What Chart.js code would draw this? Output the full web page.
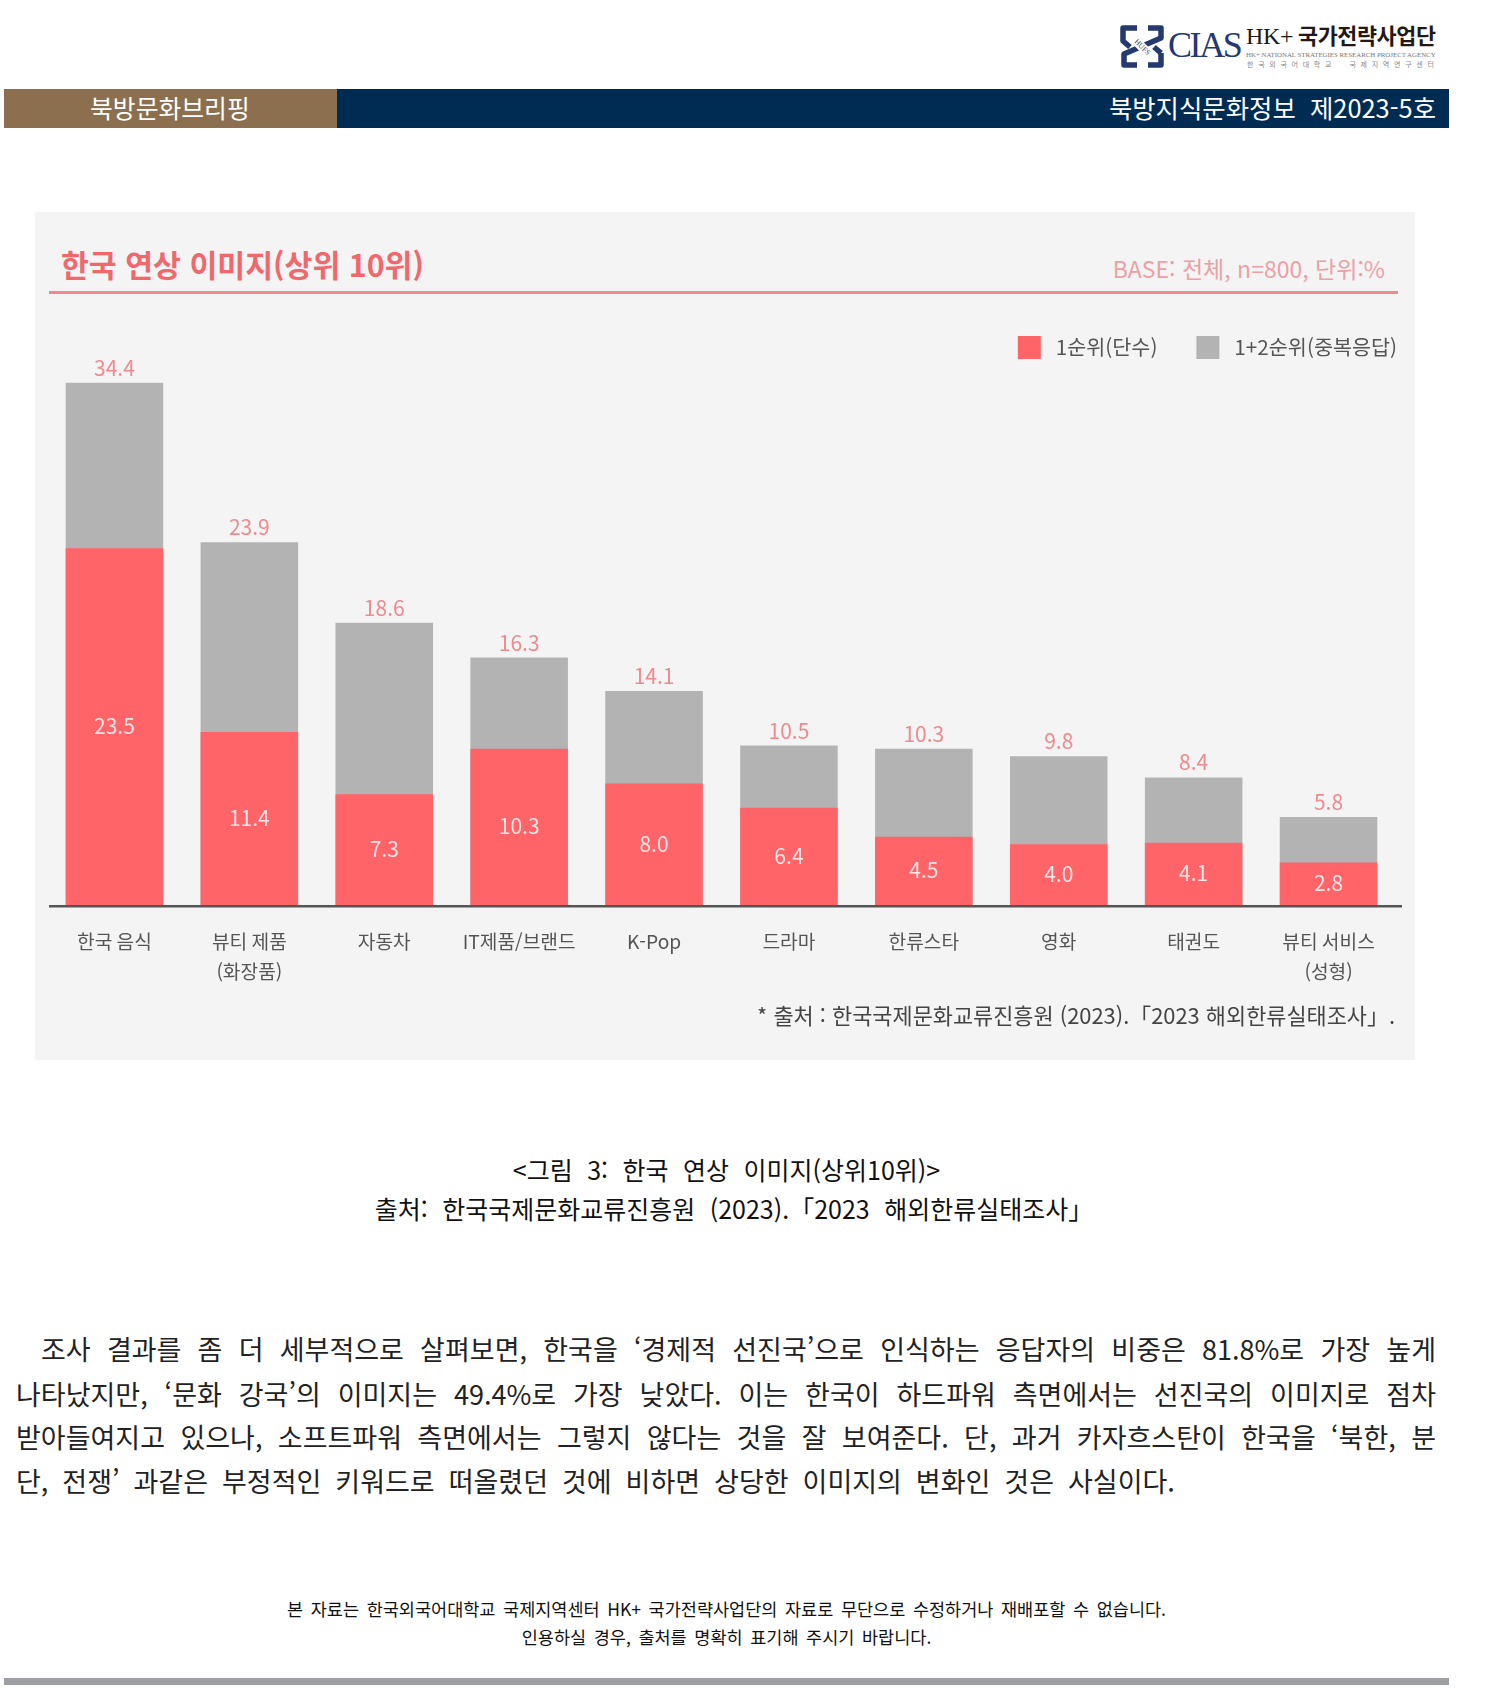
<!DOCTYPE html>
<html lang="ko">
<head>
<meta charset="utf-8">
<title>한국 연상 이미지(상위 10위)</title>
<script src="https://cdn.jsdelivr.net/npm/chart.js@4"></script>
<style>
  html, body { margin: 0; padding: 0; background: #fff; }
  body { position: relative; width: 1488px; height: 1693px; overflow: hidden; font-family: "Noto Sans CJK KR", "Noto Sans", sans-serif; }
  .abs { position: absolute; white-space: pre; }
  .box { position: absolute; }
  .just { position: absolute; left: 16px; width: 1420px; height: 44px; line-height: 44px; font-size: 27px; color: #222; white-space: normal; text-align: justify; text-align-last: justify; box-sizing: border-box; }
  .center { position: absolute; left: 4px; width: 1445px; text-align: center; white-space: pre; color: #111; }
  #chart { position: absolute; left: 35px; top: 295px; }
</style>
</head>
<body>
<!-- logo -->
<svg class="box" style="left:1115px;top:20px" width="56" height="54" viewBox="0 0 56 54">
  <g fill="none" stroke="#24396f" stroke-width="5.5" stroke-linejoin="round">
    <path d="M33 8H46V18L9 34V45H22"/>
    <path d="M22 8H8V21L15 27"/>
    <path d="M46 33V45H33V45"/>
    <path d="M46 33L39 27"/>
  </g>
  <path d="M17 17L38 38" stroke="#fff" stroke-width="9"/>
  <text x="27.5" y="29.5" font-size="7.5" font-family="Liberation Serif" text-anchor="middle" fill="#24396f" transform="rotate(45 27.5 27)">HUFS</text>
</svg>
<div class="abs" style="left:1168px;top:25px;font:36px/40px 'Liberation Serif';color:#24396f;letter-spacing:-2.4px">CIAS</div>
<div class="abs" style="left:1246px;top:21px;font:24px/30px 'Liberation Serif';color:#231815;letter-spacing:-0.3px">HK+</div>
<div class="abs" style="left:1298px;top:20px;font:bold 21.8px/30px 'Noto Sans CJK KR';color:#231815;letter-spacing:-0.4px">국가전략사업단</div>
<div class="abs" style="left:1246px;top:49px;font:6.85px/12px 'Liberation Serif';color:#777">HK+ NATIONAL STRATEGIES RESEARCH PROJECT AGENCY</div>
<div class="abs" style="left:1247px;top:58px;font:7px/12px 'Noto Sans CJK KR';color:#888;letter-spacing:4.7px">한국외국어대학교  국제지역연구센터</div>

<!-- header band -->
<div class="box" style="left:4px;top:89px;width:333px;height:39px;background:#8b6f4e"></div>
<div class="box" style="left:337px;top:89px;width:1112px;height:39px;background:#002c54"></div>
<div class="abs" style="left:90px;top:88px;font-size:24.8px;line-height:39px;color:#fff">북방문화브리핑</div>
<div class="abs" style="right:52px;top:88px;font-size:25.4px;line-height:39px;color:#fff">북방지식문화정보  제2023-5호</div>

<!-- chart panel -->
<div class="box" style="left:35px;top:212px;width:1380px;height:848px;background:#f4f4f4"></div>
<div class="abs" style="left:61px;top:244px;font-weight:bold;font-size:30.3px;line-height:40px;color:#f0686c">한국 연상 이미지(상위 10위)</div>
<div class="abs" style="right:103px;top:252px;font-size:23px;line-height:32px;color:#eda0a4">BASE: 전체, n=800, 단위:%</div>
<div class="box" style="left:49px;top:291px;width:1349px;height:3px;background:#f2898c"></div>
<canvas id="chart" width="1380" height="706"></canvas>
<div class="abs" style="right:93px;top:999px;font-size:21.9px;line-height:32px;color:#444">* 출처 : 한국국제문화교류진흥원 (2023).「2023 해외한류실태조사」.</div>

<!-- caption -->
<div class="center" style="top:1149px;font-size:25px;line-height:40px;word-spacing:7.5px">&lt;그림 3: 한국 연상 이미지(상위10위)&gt;</div>
<div class="center" style="top:1188px;font-size:25px;line-height:40px;word-spacing:7.5px;padding-left:15px;box-sizing:border-box">출처: 한국국제문화교류진흥원 (2023).「2023 해외한류실태조사」</div>

<!-- body text -->
<div class="just" style="top:1327px;padding-left:25px">조사 결과를 좀 더 세부적으로 살펴보면, 한국을 ‘경제적 선진국’으로 인식하는 응답자의 비중은 81.8%로 가장 높게</div>
<div class="just" style="top:1372px">나타났지만, ‘문화 강국’의 이미지는 49.4%로 가장 낮았다. 이는 한국이 하드파워 측면에서는 선진국의 이미지로 점차</div>
<div class="just" style="top:1415px">받아들여지고 있으나, 소프트파워 측면에서는 그렇지 않다는 것을 잘 보여준다. 단, 과거 카자흐스탄이 한국을 ‘북한, 분</div>
<div class="abs" style="left:16px;top:1459px;line-height:44px;font-size:27px;color:#222;word-spacing:6.4px">단, 전쟁’ 과같은 부정적인 키워드로 떠올렸던 것에 비하면 상당한 이미지의 변화인 것은 사실이다.</div>

<!-- footer -->
<div class="center" style="top:1594px;font-size:17.5px;line-height:30px;word-spacing:2.7px">본 자료는 한국외국어대학교 국제지역센터 HK+ 국가전략사업단의 자료로 무단으로 수정하거나 재배포할 수 없습니다.</div>
<div class="center" style="top:1622px;font-size:17.5px;line-height:30px;word-spacing:2.7px">인용하실 경우, 출처를 명확히 표기해 주시기 바랍니다.</div>
<div class="box" style="left:4px;top:1678px;width:1445px;height:7px;background:#9e9fa3"></div>

<script>
// Data
const categories = ['한국 음식', ['뷰티 제품', '(화장품)'], '자동차', 'IT제품/브랜드', 'K-Pop', '드라마', '한류스타', '영화', '태권도', ['뷰티 서비스', '(성형)']];
const firstRank = [23.5, 11.4, 7.3, 10.3, 8.0, 6.4, 4.5, 4.0, 4.1, 2.8];
const firstPlusSecond = [34.4, 23.9, 18.6, 16.3, 14.1, 10.5, 10.3, 9.8, 8.4, 5.8];

const FONT = '"Noto Sans CJK KR", "Noto Sans", sans-serif';

// Value labels and the baseline, Chart.js has no built-in for these
const barLabels = {
  id: 'barLabels',
  afterLayout(chart) {
    // legend sits further right than the plot area
    chart.legend.right += 40;
  },
  afterDatasetsDraw(chart) {
    const { ctx, scales } = chart;
    const base = scales.y.getPixelForValue(0);
    ctx.save();
    ctx.strokeStyle = '#555';
    ctx.lineWidth = 2.6;
    ctx.beginPath();
    ctx.moveTo(14, base + 1.3);
    ctx.lineTo(1367, base + 1.3);
    ctx.stroke();

    ctx.font = '21px ' + FONT;
    ctx.textAlign = 'center';
    ctx.textBaseline = 'middle';
    chart.getDatasetMeta(0).data.forEach((bar, i) => {
      ctx.fillStyle = '#fde4e4';
      ctx.fillText(firstRank[i].toFixed(1), bar.x, (bar.y + base) / 2 - 0.5);
    });
    chart.getDatasetMeta(1).data.forEach((bar, i) => {
      ctx.fillStyle = '#ee8a8e';
      ctx.fillText(firstPlusSecond[i].toFixed(1), bar.x, bar.y - 15);
    });
    ctx.restore();
  }
};

const chart = new Chart(document.getElementById('chart'), {
  type: 'bar',
  data: {
    labels: categories,
    datasets: [
      { label: '1순위(단수)', data: firstRank, backgroundColor: '#ff6468' },
      { label: '1+2순위(중복응답)', data: firstPlusSecond, backgroundColor: '#b3b3b3' }
    ]
  },
  options: {
    responsive: false,
    animation: false,
    layout: { padding: { left: 12, right: 19, top: 2, bottom: 0 } },
    datasets: { bar: { grouped: false, barPercentage: 0.723, categoryPercentage: 1 } },
    scales: {
      x: {
        grid: { display: false },
        border: { display: false },
        ticks: {
          color: '#555',
          padding: 14,
          autoSkip: false,
          maxRotation: 0,
          font: { family: FONT, size: 19.2, lineHeight: '30px' }
        }
      },
      y: { display: false, min: 0, max: 35.31 }
    },
    plugins: {
      legend: {
        position: 'top',
        align: 'end',
        labels: {
          boxWidth: 23,
          boxHeight: 23,
          padding: 39,
          color: '#555',
          font: { family: FONT, size: 20.7 },
          // one space between swatch and text, the gap is wider than the default
          generateLabels(chart) {
            return Chart.defaults.plugins.legend.labels.generateLabels(chart).map(item => ({ ...item, text: ' ' + item.text }));
          }
        }
      },
      tooltip: { enabled: false }
    }
  },
  plugins: [barLabels]
});
</script>
</body>
</html>
